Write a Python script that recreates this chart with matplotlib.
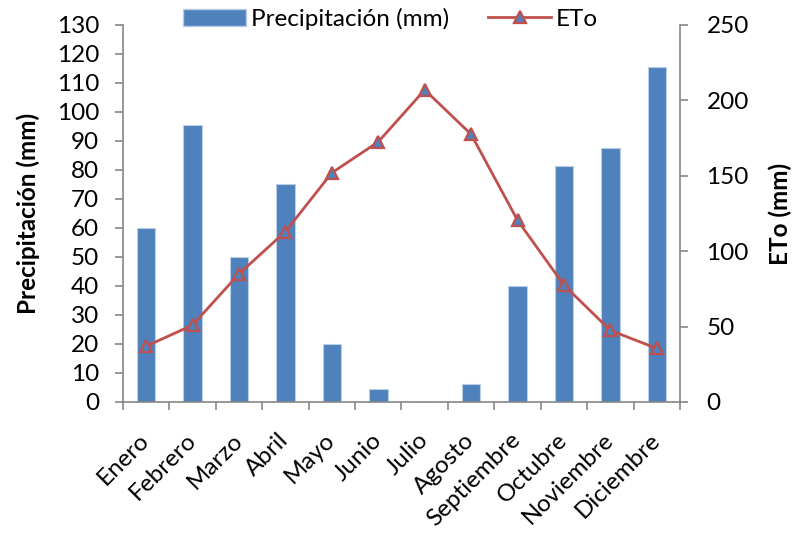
import numpy as np
import matplotlib
matplotlib.use('Agg')
import matplotlib.pyplot as plt
from matplotlib.lines import Line2D
from matplotlib.patches import Patch

plt.rcParams['font.family'] = ['Lato', 'DejaVu Sans']

meses = ['Enero', 'Febrero', 'Marzo', 'Abril', 'Mayo', 'Junio', 'Julio',
         'Agosto', 'Septiembre', 'Octubre', 'Noviembre', 'Diciembre']
precipitacion = [60, 95.5, 50, 75, 20, 4.5, 0, 6.3, 40, 81.3, 87.5, 115.5]
eto = [37, 51, 85, 113, 152, 172.5, 207, 177.5, 120.5, 77.5, 47.5, 35.5]

barColor = '#4F81BD'
lineColor = '#C0504D'
axisGrey = '#868686'
fs = 17.5

fig = plt.figure(figsize=(7.97, 5.34), dpi=100)
ax = fig.add_axes([0.1543, 0.2472, 0.6989, 0.7060])
ax2 = ax.twinx()

x = np.arange(len(meses))
ax.bar(x, precipitacion, width=0.4, color=barColor, edgecolor='#B9CDE5', linewidth=0.8, zorder=2)
ax2.plot(x, eto, color=lineColor, linewidth=2, marker='^', markersize=8,
         markerfacecolor=barColor, markeredgecolor=lineColor, markeredgewidth=1.6, zorder=3)

ax.set_xlim(-0.5, len(meses) - 0.5)
ax.set_ylim(0, 130)
ax2.set_ylim(0, 250)
ax.set_yticks(np.arange(0, 131, 10))
ax2.set_yticks(np.arange(0, 251, 50))

# category labels at centres, tick marks between categories
ax.set_xticks(x)
ax.set_xticklabels(meses, rotation=45, ha='right', va='center', rotation_mode='anchor', fontsize=fs)
ax.set_xticks(np.arange(-0.5, len(meses)), minor=True)
ax.tick_params(axis='x', which='major', length=0, pad=25)
ax.tick_params(axis='x', which='minor', length=6, width=1.2, color=axisGrey)

ax.tick_params(axis='y', length=6, width=1.2, color=axisGrey, labelsize=fs, pad=11)
ax2.tick_params(axis='y', length=6, width=1.2, color=axisGrey, labelsize=fs, pad=13)

for a in (ax, ax2):
    a.spines['top'].set_visible(False)
    for s in ('left', 'right', 'bottom'):
        a.spines[s].set_color(axisGrey)
        a.spines[s].set_linewidth(1.2)
ax.spines['right'].set_visible(False)
ax2.spines['left'].set_visible(False)
ax2.spines['bottom'].set_visible(False)

ax.set_ylabel('Precipitación (mm)', fontsize=fs, fontweight='bold', labelpad=12)
ax2.set_ylabel('ETo (mm)', fontsize=fs, fontweight='bold', labelpad=14)

handles = [Patch(facecolor=barColor, edgecolor='#B9CDE5'),
           Line2D([0], [0], color=lineColor, linewidth=2, marker='^', markersize=8,
                  markerfacecolor=barColor, markeredgecolor=lineColor, markeredgewidth=1.6)]
fig.legend(handles, ['Precipitación (mm)', 'ETo'], loc='center', bbox_to_anchor=(0.49, 0.965),
           ncol=2, frameon=False, fontsize=fs, handlelength=2.6, columnspacing=1.6, handletextpad=0.2)

fig.savefig('out.png', dpi=100)
